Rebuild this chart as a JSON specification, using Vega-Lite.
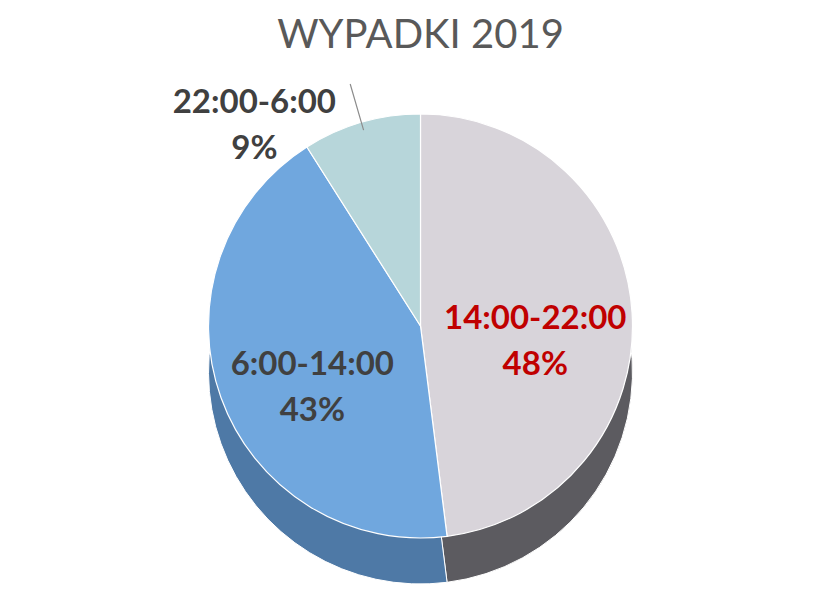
{
  "$schema": "https://vega.github.io/schema/vega-lite/v6.json",
  "width": 817,
  "height": 596,
  "autosize": {"type": "fit", "contains": "padding"},
  "padding": {"left": 24, "right": 0, "top": 16, "bottom": 4},
  "background": "white",
  "title": {"text": "WYPADKI 2019", "fontSize": 40, "font": "Lato", "fontWeight": "normal", "color": "#595959", "offset": 4, "anchor": "middle"},
  "config": {"view": {"stroke": null}},
  "data": {"values": [
    {"shift": "14:00-22:00", "pct": 48},
    {"shift": "6:00-14:00", "pct": 43},
    {"shift": "22:00-6:00", "pct": 9}
  ]},
  "transform": [
    {"window": [{"op": "sum", "field": "pct", "as": "cum"}], "frame": [null, 0]},
    {"calculate": "datum.cum - datum.pct", "as": "start"},
    {"calculate": "datum.start + datum.pct / 2", "as": "mid"},
    {"calculate": "datum.shift + '\\n' + datum.pct + '%'", "as": "label"}
  ],
  "layer": [
    {
      "mark": {"type": "arc", "radius": 212, "yOffset": 46, "stroke": "#ffffff", "strokeWidth": 1},
      "encoding": {
        "theta": {"field": "start", "type": "quantitative", "scale": {"domain": [0, 100]}},
        "theta2": {"field": "cum"},
        "color": {"field": "shift", "type": "nominal", "legend": null,
          "scale": {"domain": ["14:00-22:00", "6:00-14:00", "22:00-6:00"], "range": ["#5c5b60", "#4e79a6", "#7fa3a8"]}}
      }
    },
    {
      "mark": {"type": "arc", "radius": 212, "stroke": "#ffffff", "strokeWidth": 1.2},
      "encoding": {
        "theta": {"field": "start", "type": "quantitative", "scale": {"domain": [0, 100]}},
        "theta2": {"field": "cum"},
        "fill": {"field": "shift", "type": "nominal", "legend": null,
          "scale": {"domain": ["14:00-22:00", "6:00-14:00", "22:00-6:00"], "range": ["#d8d4da", "#70a7de", "#b7d6da"]}}
      }
    },
    {
      "transform": [{"filter": "datum.shift === '22:00-6:00'"}],
      "mark": {"type": "arc", "radius": 204, "radius2": 252, "fill": "transparent", "stroke": "#8c8c8c", "strokeWidth": 1.2},
      "encoding": {
        "theta": {"field": "mid", "type": "quantitative", "scale": {"domain": [0, 100]}},
        "theta2": {"field": "mid"}
      }
    },
    {
      "transform": [{"filter": "datum.shift !== '22:00-6:00'"}],
      "mark": {"type": "text", "radius": 115, "font": "Lato", "fontWeight": "bold", "fontSize": 33, "lineBreak": "\n", "lineHeight": 46, "align": "center", "baseline": "middle"},
      "encoding": {
        "theta": {"field": "mid", "type": "quantitative", "scale": {"domain": [0, 100]}},
        "text": {"field": "label"},
        "color": {"condition": {"test": "datum.shift === '14:00-22:00'", "value": "#c00000"}, "value": "#404040"}
      }
    },
    {
      "transform": [{"filter": "datum.shift === '22:00-6:00'"}],
      "mark": {"type": "text", "radius": 255, "dx": -95, "dy": 22, "font": "Lato", "fontWeight": "bold", "fontSize": 33, "lineBreak": "\n", "lineHeight": 46, "align": "center", "baseline": "middle", "color": "#404040"},
      "encoding": {
        "theta": {"field": "mid", "type": "quantitative", "scale": {"domain": [0, 100]}},
        "text": {"field": "label"}
      }
    }
  ]
}
